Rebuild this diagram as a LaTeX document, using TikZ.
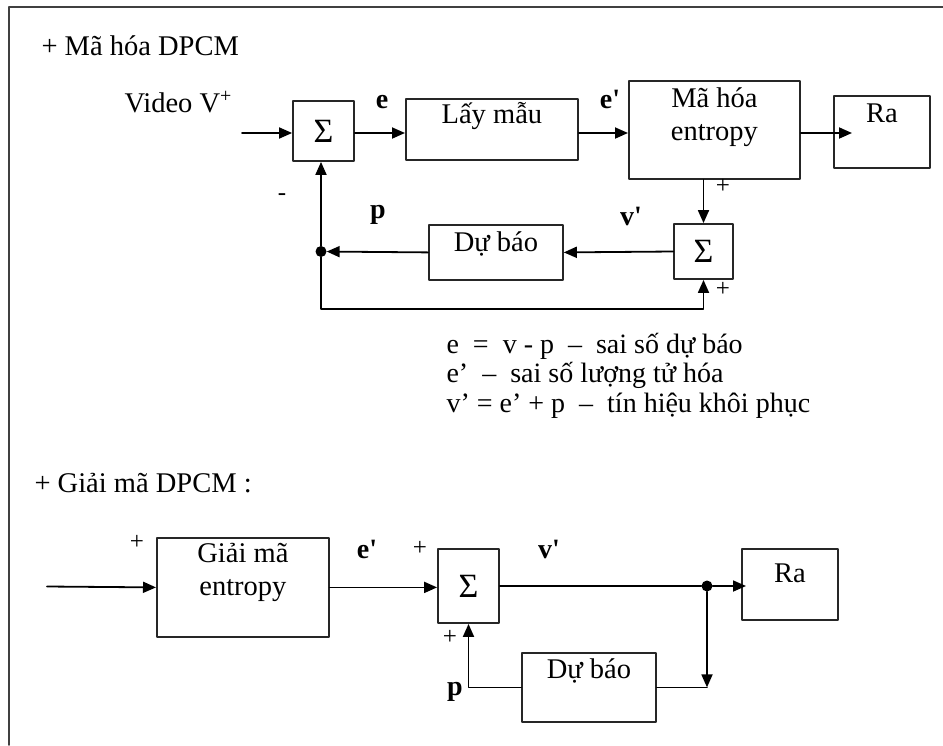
\documentclass[tikz,border=0pt]{standalone}
\usepackage{fontspec}
\setmainfont{Liberation Serif}
\usetikzlibrary{arrows.meta,positioning}
\begin{document}
\begin{tikzpicture}[x=1pt,y=-1pt, line cap=round, line join=round,
    every node/.style={font=\fontsize{28.5}{33}\selectfont},
    blk/.style={draw=black!85, line width=1.8pt, inner sep=0pt, align=center},
    sumbox/.style={blk, minimum width=60, minimum height=60, font=\fontsize{34}{36}\selectfont},
    arr/.style={line width=1.8pt, -{Triangle[length=13pt,width=11pt]}},
    wire/.style={line width=1.8pt},
    sig/.style={font=\bfseries\fontsize{28}{30}\selectfont, anchor=base},
    sgn/.style={font=\fontsize{25}{28}\selectfont},
    dot/.style={circle, fill, inner sep=0pt, minimum size=11pt}]
    \useasboundingbox (0,0) rectangle (943,745);
    \draw[line width=1.5pt, black!75] (9,745) -- (9,7) -- (943,7);

    % ma hoa DPCM
    \node[anchor=base west] (t1) at (38,55) {+ Mã hóa DPCM};
    \node[anchor=base west] (vid) at (121,112) {Video V\textsuperscript{+}};
    \coordinate (in1) at (242,133);
    \node[sumbox, minimum width=61] (s1) at (323.5,131) {Σ};
    \node[blk, anchor=north west, minimum width=172, text height=25, text depth=36] (lm) at (405,98) {Lấy mẫu};
    \node[blk, anchor=north west, minimum width=171, text height=60, text depth=38] (mhe) at (628,80) {Mã hóa\\entropy};
    \node[blk, anchor=north west, minimum width=96, text height=27, text depth=45] (ra1) at (833,95) {Ra};
    \node[sumbox, minimum width=59, minimum height=55] (s2) at (703.5,251.5) {Σ};
    \node[blk, anchor=north west, minimum width=134, text height=27, text depth=28] (db1) at (428,224) {Dự báo};
    \node[dot] (d1) at (321,251.5) {};
    \coordinate (lp1) at (321,309);

    \draw[arr] (in1) -- (s1.west |- in1);
    \draw[arr] (s1.east |- in1) -- (lm.west |- in1);
    \draw[arr] (lm.east |- in1) -- (mhe.west |- in1);
    \draw[arr] (mhe.east |- in1) -- (ra1.west |- in1) -- ++(19,0);
    \draw[arr] (s2.north |- mhe.south) -- (s2.north);
    \draw[arr] (s2.west) -- (db1.east);
    \draw[arr] (db1.west) -- (d1);
    \draw[arr] (d1) -- (d1 |- s1.south);
    \draw[arr] (d1) -- (lp1) -| (s2.south);

    \node[sig] (le) at (382,108) {e};
    \node[sig] (le1) at (610,108) {e\textquotesingle};
    \node[sig] (lp) at (378,218) {p};
    \node[sig] (lv1) at (631,225) {v\textquotesingle};
    \node[sgn] (pl1) at (723,186) {+};
    \node[sgn] (pl2) at (723,289) {+};
    \node[sgn] (mn1) at (282,197) {-};

    \node[anchor=base west, align=left, font=\fontsize{28}{29.5}\selectfont] (eq) at (443,412)
      {e \ = \ v - p \ – \ sai số dự báo\\
       e’ \ – \ sai số lượng tử hóa\\
       v’ = e’ + p \ – \ tín hiệu khôi phục};

    % giai ma DPCM
    \node[anchor=base west] (t2) at (31,492) {+ Giải mã DPCM :};
    \coordinate (in2) at (47,586.5);
    \node[blk, anchor=north west, minimum width=172, text height=58, text depth=41] (gm) at (156,537) {Giải mã\\entropy};
    \node[sumbox, minimum width=61, minimum height=74] (s3) at (468.5,586) {Σ};
    \node[blk, anchor=north west, minimum width=96, text height=34, text depth=37] (ra2) at (741,548) {Ra};
    \node[blk, anchor=north west, minimum width=134, text height=26, text depth=43] (db2) at (521,652) {Dự báo};
    \node[dot] (d2) at (707,586) {};

    \draw[arr] (in2) -- (gm.west);
    \draw[arr] (gm.east) -- (s3.west |- gm.east);
    \draw[wire] (s3.east) -- (d2);
    \draw[arr] (d2) -- (ra2.west |- d2) -- ++(5,0);
    \draw[arr] (d2) -- (d2 |- db2.east);
    \draw[wire] (db2.east) -- (d2 |- db2.east);
    \draw[arr] (db2.west) -| (s3.south);

    \node[sgn] (pl3) at (137,542) {+};
    \node[sig] (le2) at (367,558) {e\textquotesingle};
    \node[sgn] (pl4) at (420,548) {+};
    \node[sig] (lv2) at (549,558) {v\textquotesingle};
    \node[sgn] (pl5) at (450,637) {+};
    \node[sig] (lp2) at (455,695) {p};
\end{tikzpicture}
\end{document}
